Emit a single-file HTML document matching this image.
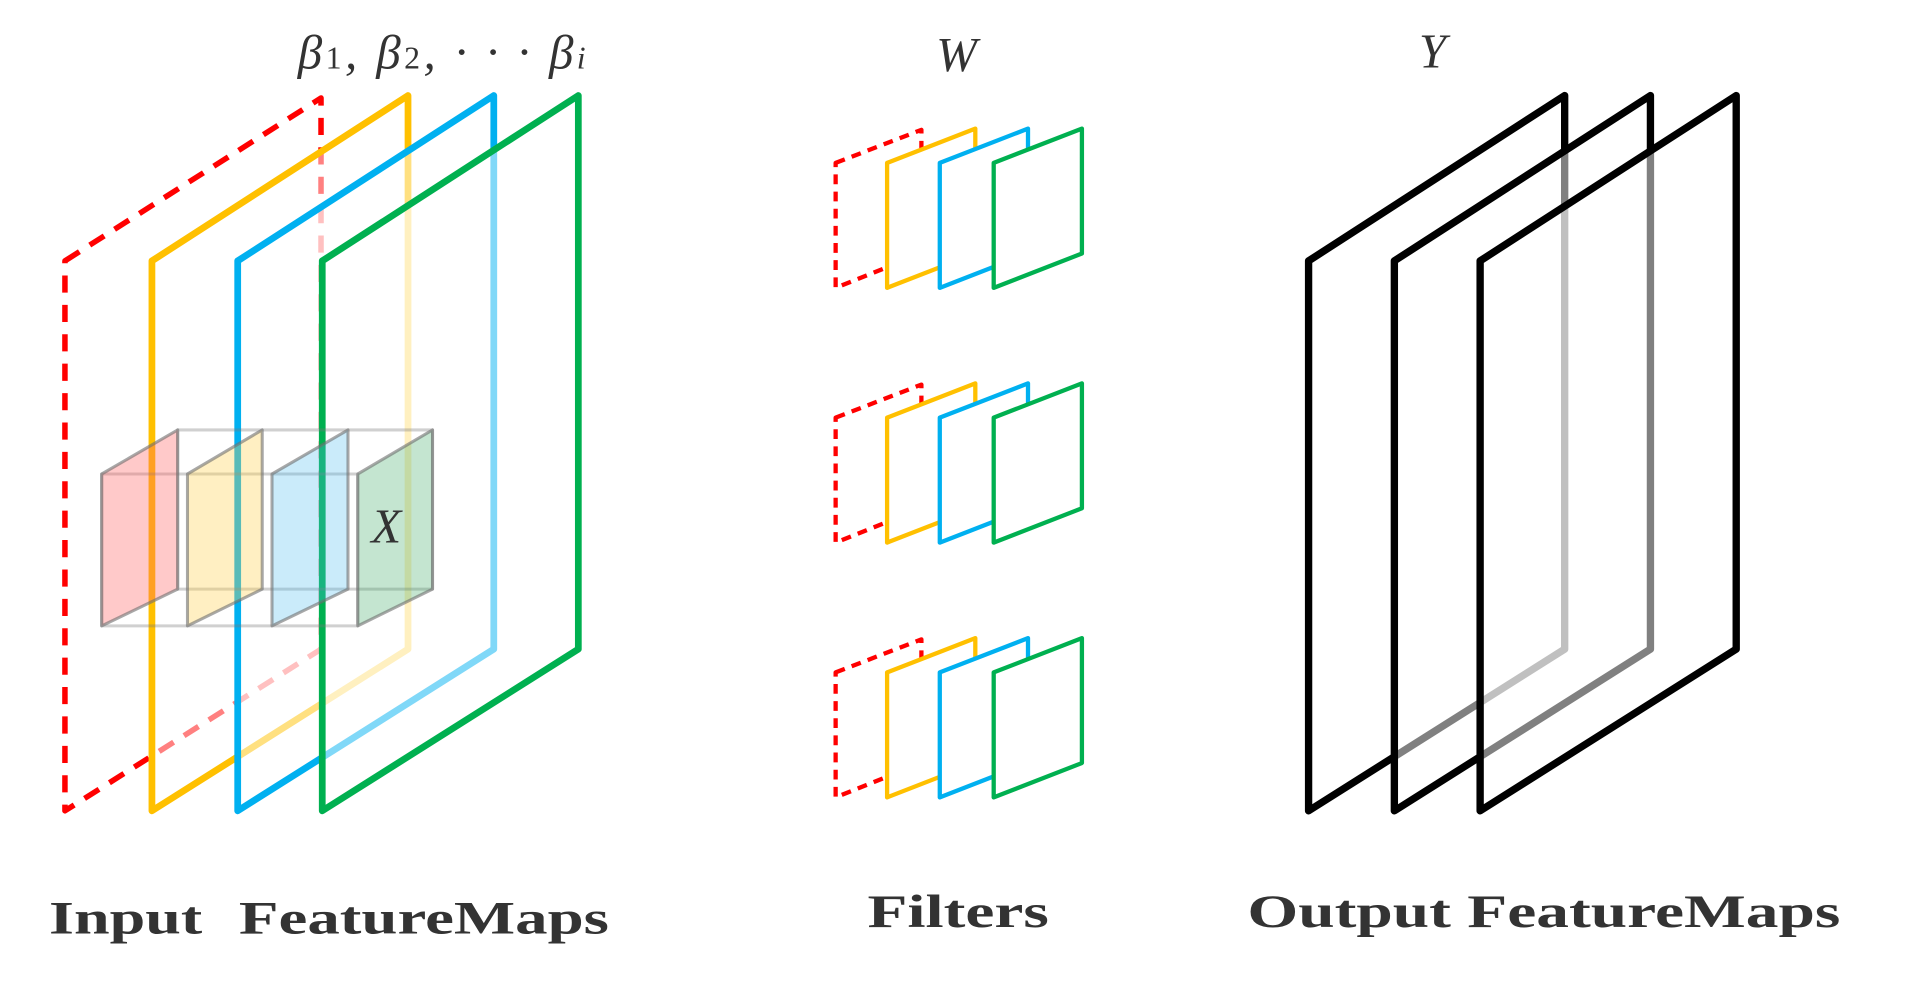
<!DOCTYPE html>
<html><head><meta charset="utf-8"><style>html,body{margin:0;padding:0;background:#fff;width:1920px;height:997px;overflow:hidden}</style></head>
<body>
<svg width="1920" height="997" viewBox="0 0 1567 814" preserveAspectRatio="none" xmlns="http://www.w3.org/2000/svg">
<g stroke-linejoin="round" stroke-linecap="round">
<polygon points="53,213 262,80 262,530 53,662" fill="rgba(255,255,255,0.5)" stroke="#f00" stroke-width="4.5" stroke-dasharray="14,10" stroke-linecap="butt"/>
<polygon points="124,213 333,78 333,530 124,662" fill="rgba(255,255,255,0.5)" stroke="#ffc000" stroke-width="5.5"/>
<polygon points="194,213 403,78 403,530 194,662" fill="rgba(255,255,255,0.5)" stroke="#00b0f0" stroke-width="5.5"/>
<polygon points="263,213 472,78 472,530 263,662" fill="rgba(255,255,255,0.5)" stroke="#00b050" stroke-width="5.5"/>
<g stroke="rgba(120,120,120,0.35)" stroke-width="2.5" fill="none">
<rect x="83" y="387" width="209" height="124"/>
<rect x="145" y="351" width="208" height="130"/>
</g>
<g stroke="rgba(110,110,110,0.6)" stroke-width="2.5">
<polygon points="83,387 145,351 145,481 83,511" fill="rgba(255,100,100,0.35)"/>
<polygon points="153,387 214,351 214,481 153,511" fill="rgba(255,210,80,0.35)"/>
<polygon points="222,387 284,351 284,481 222,511" fill="rgba(80,190,240,0.3)"/>
<polygon points="292,387 353,351 353,481 292,511" fill="rgba(60,170,100,0.3)"/>
</g>
<g id="f">
<polygon points="682,133 752,106 752,207 682,235" fill="none" stroke="#f00" stroke-width="3.5" stroke-dasharray="8,6" stroke-linecap="butt"/>
<polygon points="724,133 796,105 796,207 724,235" fill="#fff" stroke="#ffc000" stroke-width="3.5"/>
<polygon points="767,133 839,105 839,207 767,235" fill="#fff" stroke="#00b0f0" stroke-width="3.5"/>
<polygon points="811,133 883,105 883,207 811,235" fill="#fff" stroke="#00b050" stroke-width="3.5"/>
</g>
<use href="#f" y="208"/>
<use href="#f" y="416"/>
<polygon points="1068,213 1277,78 1277,530 1068,662" fill="rgba(255,255,255,0.5)" stroke="#000" stroke-width="6"/>
<polygon points="1138,213 1347,78 1347,530 1138,662" fill="rgba(255,255,255,0.5)" stroke="#000" stroke-width="6"/>
<polygon points="1208,213 1417,78 1417,530 1208,662" fill="rgba(255,255,255,0.5)" stroke="#000" stroke-width="6"/>
</g>
<g font-family="Liberation Serif, serif" fill="#333">
<text x="243" y="56" font-size="40" font-style="italic" textLength="235">β<tspan font-size="26" font-style="normal">1</tspan>, β<tspan font-size="26" font-style="normal">2</tspan>, · · · β<tspan font-size="26">i</tspan></text>
<text x="303" y="443" font-size="40" font-style="italic">X</text>
<text x="764" y="58" font-size="40" font-style="italic">W</text>
<text x="1158" y="55" font-size="40" font-style="italic">Y</text>
<g font-weight="bold" font-size="38">
<text x="40" y="762" textLength="125" lengthAdjust="spacingAndGlyphs">Input</text>
<text x="195" y="762" textLength="302" lengthAdjust="spacingAndGlyphs">FeatureMaps</text>
<text x="708" y="757" textLength="148" lengthAdjust="spacingAndGlyphs">Filters</text>
<text x="1018" y="757" textLength="484" lengthAdjust="spacingAndGlyphs">Output FeatureMaps</text>
</g>
</g>
</svg>
</body></html>
